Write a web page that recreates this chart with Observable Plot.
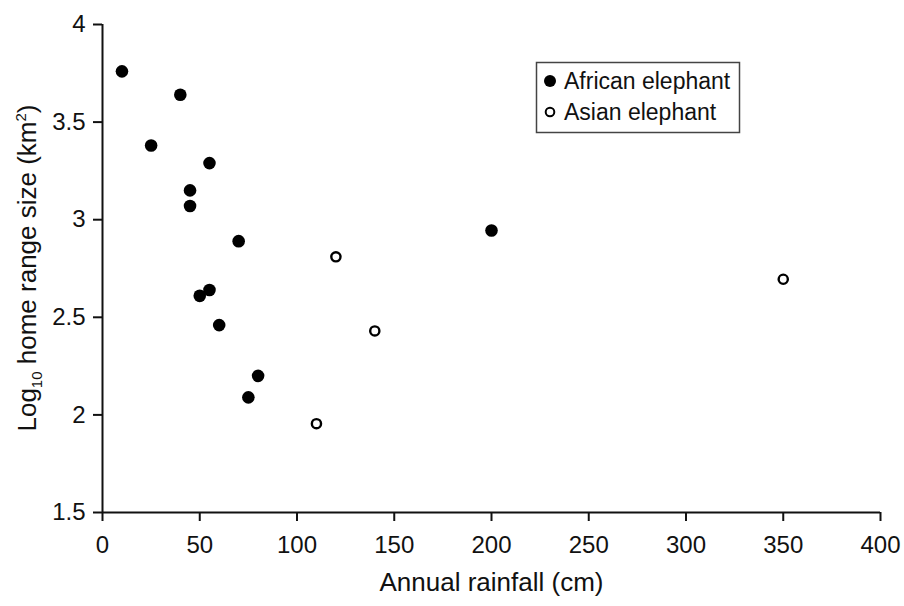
<!DOCTYPE html>
<html>
<head>
<meta charset="utf-8">
<script src="https://cdn.jsdelivr.net/npm/d3@7"></script>
<script src="https://cdn.jsdelivr.net/npm/@observablehq/plot@0.6"></script>
<style>
  body { margin: 0; background: #fff; }
  #chart { width: 904px; height: 606px; }
</style>
</head>
<body>
<div id="chart"></div>
<script>
// Annual rainfall (cm) and log10 home range size (km²) per population
const seriesNames = ["African elephant", "Asian elephant"];
const africanRainfall = [10, 40, 25, 55, 45, 45, 70, 55, 50, 60, 80, 75, 200];
const africanRange    = [3.76, 3.64, 3.38, 3.29, 3.15, 3.07, 2.89, 2.64, 2.61, 2.46, 2.20, 2.09, 2.945];
const asianRainfall   = [120, 140, 110, 350];
const asianRange      = [2.81, 2.43, 1.955, 2.695];
const xTicks = [0, 50, 100, 150, 200, 250, 300, 350, 400];
const yTicks = [1.5, 2, 2.5, 3, 3.5, 4];
const xTitle = "Annual rainfall (cm)";

const african = africanRainfall.map((x, i) => ({rainfall: x, range: africanRange[i]}));
const asian = asianRainfall.map((x, i) => ({rainfall: x, range: asianRange[i]}));

const font = '"Liberation Sans", Arial, Helvetica, sans-serif';
const ink = "#111";

const chart = Plot.plot({
  width: 904,
  height: 606,
  marginLeft: 102,
  marginRight: 24,
  marginTop: 24,
  marginBottom: 94,
  x: {domain: [0, 400]},
  y: {domain: [1.5, 4]},
  style: {fontFamily: font, fontSize: "24px", color: ink, background: "#fff"},
  marks: [
    Plot.axisX({ticks: xTicks, tickSize: 9, tickPadding: 14, strokeWidth: 2, fontSize: 24, label: null}),
    Plot.axisY({ticks: yTicks, tickSize: 9, tickPadding: 8, strokeWidth: 2, fontSize: 24, label: null,
                tickFormat: d => String(d)}),
    Plot.ruleX([0], {y1: 1.5, y2: 4, strokeWidth: 2}),
    Plot.ruleY([1.5], {x1: 0, x2: 400, strokeWidth: 2}),
    Plot.dot(african, {x: "rainfall", y: "range", r: 6.3, fill: "#000"}),
    Plot.dot(asian, {x: "rainfall", y: "range", r: 4.6, fill: "#fff", stroke: "#000", strokeWidth: 2.4}),
    Plot.text([xTitle], {text: d => d, frameAnchor: "bottom", dy: 78, fontSize: 26, fill: ink})
  ]
});

document.getElementById("chart").appendChild(chart);

const svg = d3.select(chart);

// y-axis title with subscript and superscript
const yt = svg.append("text")
  .attr("transform", "translate(36,268) rotate(-90)")
  .attr("text-anchor", "middle")
  .attr("font-family", font)
  .attr("font-size", 26)
  .attr("fill", ink);
yt.append("tspan").text("Log");
yt.append("tspan").attr("font-size", 15).attr("dy", 6).text("10");
yt.append("tspan").attr("dy", -6).text(" home range size (km");
yt.append("tspan").attr("font-size", 15).attr("dy", -10).text("2");
yt.append("tspan").attr("dy", 10).text(")");

// legend box
const lg = svg.append("g")
  .attr("font-family", font).attr("font-size", 23).attr("fill", ink)
  .attr("text-anchor", "start");
lg.append("rect")
  .attr("x", 536.5).attr("y", 62.5).attr("width", 203).attr("height", 70)
  .attr("fill", "#fff").attr("stroke", "#444").attr("stroke-width", 1.5);
lg.append("circle").attr("cx", 550).attr("cy", 81).attr("r", 6).attr("fill", "#000");
lg.append("circle").attr("cx", 550).attr("cy", 112).attr("r", 4.3)
  .attr("fill", "#fff").attr("stroke", "#000").attr("stroke-width", 2);
lg.append("text").attr("x", 564).attr("y", 89).attr("text-anchor", "start").text(seriesNames[0]);
lg.append("text").attr("x", 564).attr("y", 120).attr("text-anchor", "start").text(seriesNames[1]);
</script>
</body>
</html>
